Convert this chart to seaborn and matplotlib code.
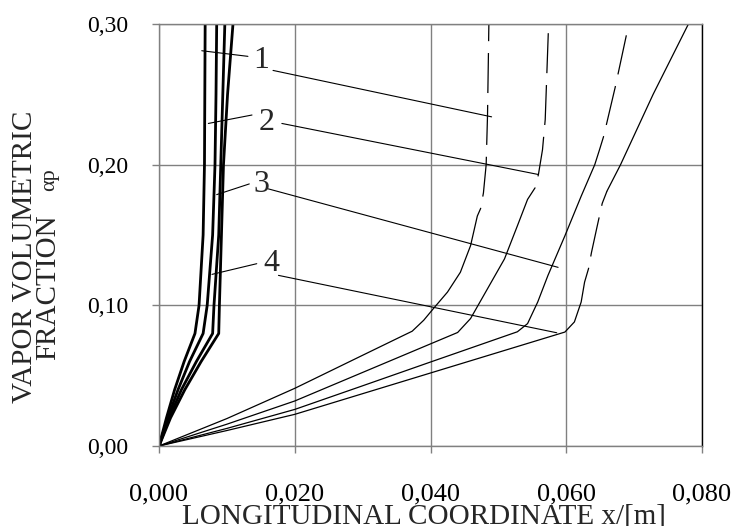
import matplotlib
matplotlib.use("Agg")
import matplotlib.pyplot as plt
import seaborn as sns

# Axis ticks
x_ticks = [0.0, 0.02, 0.04, 0.06, 0.08]
x_tick_labels = ["0,000", "0,020", "0,040", "0,060", "0,080"]
y_ticks = [0.0, 0.10, 0.20, 0.30]
y_tick_labels = ["0,00", "0,10", "0,20", "0,30"]

# Thick curves (left group), x read at fixed heights
thick_y = [0.0, 0.02, 0.04, 0.06, 0.08, 0.10, 0.15, 0.20, 0.25, 0.30]
thick_x = {
    "1": [0.0, 0.0011, 0.0023, 0.0037, 0.0053, 0.0059, 0.0065, 0.0067, 0.00675, 0.0068],
    "2": [0.0, 0.0013, 0.0028, 0.0045, 0.0065, 0.0071, 0.0079, 0.00825, 0.0084, 0.0085],
    "3": [0.0, 0.0015, 0.0033, 0.0055, 0.0079, 0.0081, 0.0088, 0.0091, 0.0094, 0.0097],
    "4": [0.0, 0.0017, 0.0038, 0.0062, 0.0088, 0.0089, 0.0092, 0.0095, 0.0101, 0.0109],
}

# Thin curves (right group): solid part, dashed part, optional solid tail
a_solid_x = [0.0, 0.010, 0.020, 0.030, 0.0355, 0.0373, 0.0390, 0.0405, 0.0425, 0.0444,
             0.0459, 0.0469, 0.0474]
a_solid_y = [0.0, 0.0195, 0.041, 0.0645, 0.0774, 0.0816, 0.0894, 0.0981, 0.1094, 0.1235,
             0.1424, 0.1635, 0.169]
a_dash_x = [0.0474, 0.0478, 0.0482, 0.0484, 0.0486]
a_dash_y = [0.169, 0.180, 0.200, 0.235, 0.300]

b_solid_x = [0.0, 0.010, 0.020, 0.030, 0.040, 0.0440, 0.0459, 0.0484, 0.0509, 0.0528,
             0.0543, 0.0554]
b_solid_y = [0.0, 0.0155, 0.032, 0.0523, 0.0726, 0.0807, 0.0906, 0.1118, 0.133, 0.1565,
             0.1753, 0.1835]
b_dash_x = [0.0554, 0.0559, 0.0565, 0.0569, 0.0574]
b_dash_y = [0.1835, 0.193, 0.2106, 0.232, 0.300]

c_solid_x = [0.0, 0.010, 0.020, 0.030, 0.040, 0.050, 0.0528, 0.0543, 0.0558, 0.0573,
             0.0598, 0.0622, 0.0642, 0.0649, 0.0655]
c_solid_y = [0.0, 0.0125, 0.026, 0.0428, 0.0597, 0.0765, 0.0812, 0.087, 0.1024, 0.1212,
             0.1494, 0.1776, 0.200, 0.2106, 0.220]
c_dash_x = [0.0655, 0.0672, 0.0689]
c_dash_y = [0.220, 0.2548, 0.293]

d_solid_x = [0.0, 0.010, 0.020, 0.030, 0.040, 0.050, 0.0598, 0.0612, 0.0622, 0.0627, 0.0633]
d_solid_y = [0.0, 0.011, 0.0225, 0.0372, 0.0519, 0.0666, 0.081, 0.0882, 0.1024, 0.1165, 0.1264]
d_dash_x = [0.0633, 0.0637, 0.0645, 0.0653, 0.0660]
d_dash_y = [0.1264, 0.1372, 0.155, 0.1725, 0.1812]
d_tail_x = [0.0660, 0.0680, 0.0728, 0.0780]
d_tail_y = [0.1812, 0.200, 0.250, 0.300]

# Curve numbers and their leader lines (left end, right end)
label_names = ["1", "2", "3", "4"]
label_x = [0.0150, 0.0158, 0.0151, 0.0165]
label_y = [0.274, 0.230, 0.186, 0.1296]
lead_left_x = [[0.0063, 0.0131], [0.00727, 0.0137], [0.0085, 0.0133], [0.0078, 0.0144]]
lead_left_y = [[0.281, 0.277], [0.2293, 0.2353], [0.1787, 0.1863], [0.122, 0.1296]]
lead_right_x = [[0.0168, 0.0490], [0.0181, 0.0559], [0.0161, 0.0588], [0.0176, 0.0586]]
lead_right_y = [[0.267, 0.234], [0.2293, 0.193], [0.1828, 0.127], [0.1213, 0.0805]]

sns.set_theme(style="ticks")
plt.rcParams["font.family"] = ["Liberation Serif", "DejaVu Serif"]

fig = plt.figure(figsize=(7.35, 5.26), dpi=100)
ax = fig.add_axes([159 / 735, 80 / 526, 543 / 735, 422 / 526])

grid_col = "#808080"
dash_style = (32, (32, 9.5))  # dashed runs begin with a gap


def draw(xs, ys, lw, ls="-"):
    sns.lineplot(x=xs, y=ys, ax=ax, color="black", linewidth=lw, linestyle=ls,
                 sort=False, estimator=None)


for key, xs in thick_x.items():
    draw(xs, thick_y, 2.0)

draw(a_solid_x, a_solid_y, 0.9)
draw(a_dash_x, a_dash_y, 0.9, dash_style)
draw(b_solid_x, b_solid_y, 0.9)
draw(b_dash_x, b_dash_y, 0.9, dash_style)
draw(c_solid_x, c_solid_y, 0.9)
draw(c_dash_x, c_dash_y, 0.9, dash_style)
draw(d_solid_x, d_solid_y, 0.9)
draw(d_dash_x, d_dash_y, 0.9, dash_style)
draw(d_tail_x, d_tail_y, 0.9)

for i, name in enumerate(label_names):
    ax.plot(lead_left_x[i], lead_left_y[i], color="black", lw=0.8)
    ax.plot(lead_right_x[i], lead_right_y[i], color="black", lw=0.8)
    ax.text(label_x[i], label_y[i], name, fontsize=23, ha="center", va="center")

ax.set_xlim(0, 0.08)
ax.set_ylim(0, 0.30)
ax.set_xticks(x_ticks)
ax.set_xticklabels(x_tick_labels)
ax.set_yticks(y_ticks)
ax.set_yticklabels(y_tick_labels)
ax.tick_params(axis="x", direction="out", length=5, width=1, color=grid_col,
               labelsize=19, pad=22, labelcolor="black")
ax.tick_params(axis="y", direction="out", length=5, width=1, color=grid_col,
               labelsize=17, pad=17, labelcolor="black")
ax.grid(True, color=grid_col, linewidth=1.0)
ax.set_axisbelow(True)
for side in ["left", "bottom", "top"]:
    ax.spines[side].set_color(grid_col)
    ax.spines[side].set_linewidth(1.0)
ax.spines["right"].set_color("black")
ax.spines["right"].set_linewidth(1.0)
ax.set_xlabel("")
ax.set_ylabel("")

fig.text(424 / 735, 1 - 523 / 526, "LONGITUDINAL COORDINATE x/[m]", fontsize=21,
         ha="center", va="baseline")
fig.text(25 / 735, 1 - 257 / 526, "VAPOR VOLUMETRIC", fontsize=21,
         rotation=90, ha="center", va="center")
fig.text(48 / 735, 1 - 287 / 526, "FRACTION", fontsize=21,
         rotation=90, ha="center", va="center")
fig.text(49.5 / 735, 1 - 180 / 526, "αp", fontsize=16,
         rotation=90, ha="center", va="center")

fig.savefig("out.png", dpi=100)
